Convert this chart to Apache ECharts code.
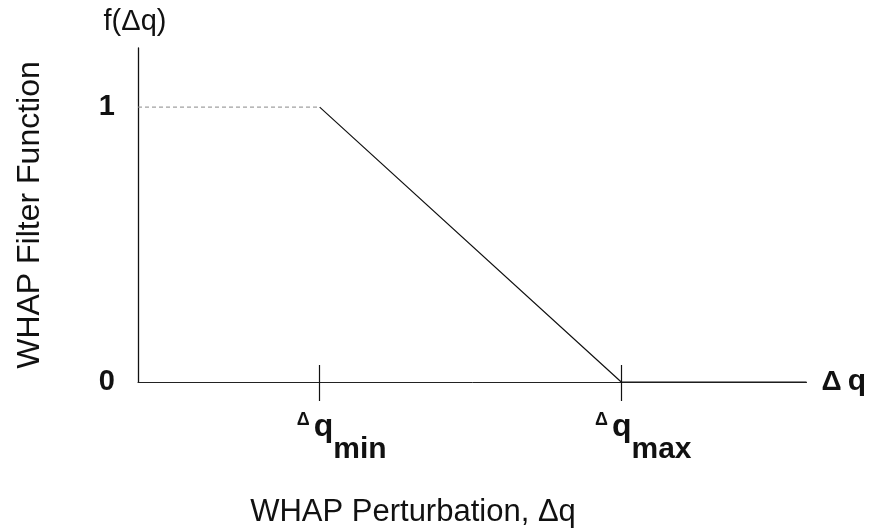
<!DOCTYPE html>
<html>
<head>
<meta charset="utf-8">
<script src="https://cdn.jsdelivr.net/npm/echarts@6/dist/echarts.min.js"></script>
<style>html,body{margin:0;padding:0;background:#fff}#c{width:869px;height:532px}</style>
</head>
<body>
<div id="c"></div>
<script>
// Data (x in units of Δq_min)
const dqMin = 1.0;
const dqMax = 2.66;
const xEnd = 3.68;
const yTop = 1.215;
const plateauX = [0, dqMin];
const plateauY = [1, 1];
const rampX = [dqMin, dqMax, xEnd];
const rampY = [1, 0, 0];
const xTickValues = [dqMin, dqMax];
const xTickLabels = ['min', 'max'];
const yTickValues = [0, 1];
const yTickLabels = ['0', '1'];

const FONT = 'Liberation Sans, Arial, sans-serif';
const chart = echarts.init(document.getElementById('c'));
const zip = (xs, ys) => xs.map((x, i) => [x, ys[i]]);

chart.setOption({
  animation: false,
  backgroundColor: '#fff',
  grid: { left: 138, right: 61, top: 48, bottom: 150, containLabel: false },
  title: [{
    text: 'WHAP Perturbation, Δq',
    left: 408, top: 492, textAlign: 'center',
    textStyle: { fontFamily: FONT, fontSize: 31, fontWeight: 'normal', color: '#111' }
  }],
  xAxis: [{
    type: 'value', min: 0, max: xEnd, position: 'bottom',
    splitLine: { show: false },
    axisLine: { show: true, lineStyle: { color: '#222', width: 1 } },
    axisTick: { show: true, customValues: xTickValues, length: 19, lineStyle: { color: '#111', width: 1.2 } },
    axisLabel: {
      show: true, customValues: xTickValues, margin: 29,
      formatter: (v) => {
        const i = xTickValues.indexOf(v);
        return '{d|Δ}{q|q}{s|' + (i >= 0 ? xTickLabels[i] : '') + '}';
      },
      padding: [0, 0, 0, 44],
      rich: {
        d: { fontFamily: FONT, fontSize: 18, fontWeight: 'bold', color: '#111', verticalAlign: 'top', padding: [0, 4, 0, 0] },
        q: { fontFamily: FONT, fontSize: 32, fontWeight: 'bold', color: '#111', verticalAlign: 'top' },
        s: { fontFamily: FONT, fontSize: 30, fontWeight: 'bold', color: '#111', verticalAlign: 'bottom', padding: [24, 0, 0, 0] }
      }
    },
    name: '{d|Δ}{q|q}', nameLocation: 'end', nameGap: 15,
    nameTextStyle: {
      rich: {
        d: { fontFamily: FONT, fontSize: 28, fontWeight: 'bold', color: '#111', padding: [0, 6, 0, 0] },
        q: { fontFamily: FONT, fontSize: 30, fontWeight: 'bold', color: '#111' }
      }
    }
  }, {
    type: 'value', min: 0, max: xEnd, position: 'bottom', offset: 0,
    splitLine: { show: false },
    axisLine: { show: false },
    axisLabel: { show: false },
    axisTick: { show: true, inside: true, customValues: xTickValues, length: 17, lineStyle: { color: '#111', width: 1.2 } }
  }],
  yAxis: [{
    type: 'value', min: 0, max: yTop,
    splitLine: { show: false },
    axisLine: { show: true, lineStyle: { color: '#111', width: 1.3 } },
    axisTick: { show: false },
    axisLabel: {
      show: true, customValues: yTickValues, margin: 23,
      formatter: (v) => yTickLabels[yTickValues.indexOf(v)],
      fontFamily: FONT, fontSize: 29, fontWeight: 'bold', color: '#111'
    },
    name: 'f(Δq)', nameLocation: 'end', nameGap: 12,
    nameTextStyle: { fontFamily: FONT, fontSize: 29, color: '#111', align: 'center', padding: [0, 6, 0, 0] }
  }, {
    type: 'value', min: 0, max: yTop, position: 'left', offset: 0,
    axisLine: { show: false }, axisTick: { show: false }, axisLabel: { show: false }, splitLine: { show: false },
    name: 'WHAP Filter Function', nameLocation: 'middle', nameGap: 92, nameRotate: 90,
    nameTextStyle: { fontFamily: FONT, fontSize: 32, color: '#111' }
  }],
  series: [{
    type: 'line', xAxisIndex: 0, yAxisIndex: 0,
    data: zip(plateauX, plateauY), symbol: 'none',
    lineStyle: { color: '#888', width: 1, type: [4, 3] }
  }, {
    type: 'line', xAxisIndex: 0, yAxisIndex: 0,
    data: zip(rampX, rampY), symbol: 'none',
    lineStyle: { color: '#111', width: 1.2 }
  }]
});
</script>
</body>
</html>
